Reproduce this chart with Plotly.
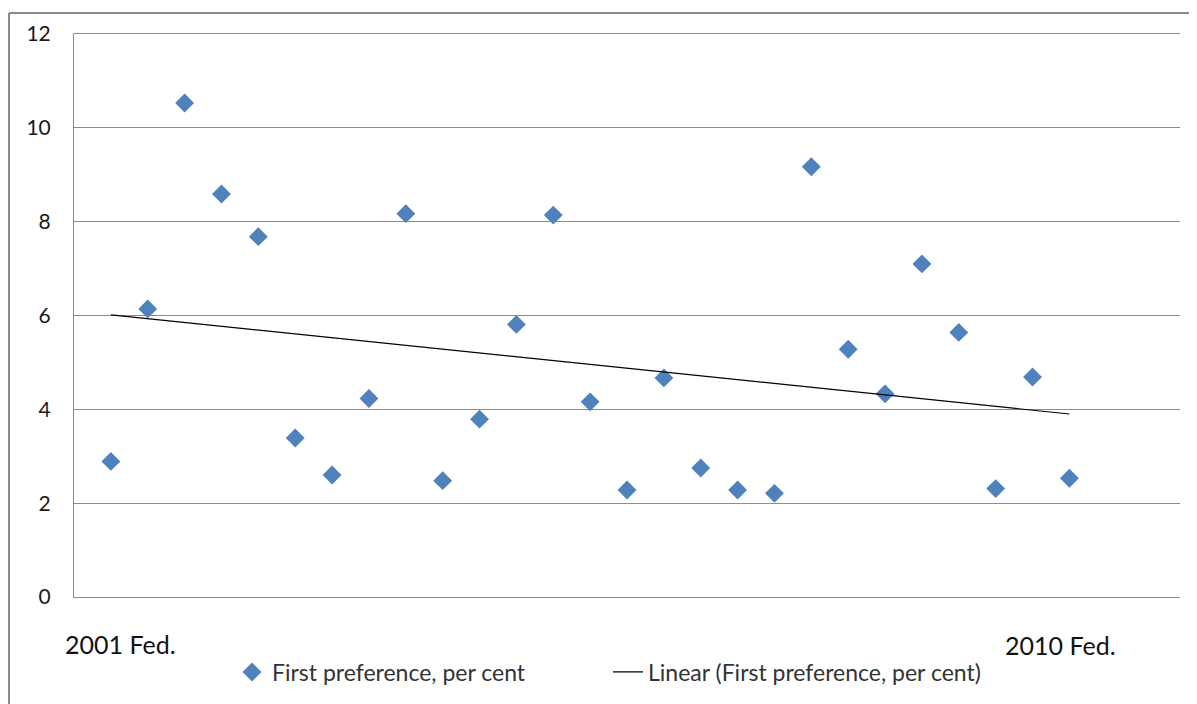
import numpy as np
import plotly.graph_objects as go

# Data
x_index = list(range(1, 28))
first_pref = [2.89, 6.14, 10.53, 8.59, 7.68, 3.39, 2.60, 4.23, 8.17, 2.48,
              3.79, 5.81, 8.14, 4.16, 2.28, 4.67, 2.75, 2.28, 2.21, 9.17,
              5.28, 4.33, 7.10, 5.64, 2.31, 4.69, 2.53]
y_ticks = [0, 2, 4, 6, 8, 10, 12]
x_labels = ["2001 Fed.", "2010 Fed."]
series_name = "First preference, per cent"
trend_name = "Linear (First preference, per cent)"

# Linear trendline (least squares), as Excel does
slope, intercept = np.polyfit(x_index, first_pref, 1)
trend_x = [x_index[0], x_index[-1]]
trend_y = [intercept + slope * v for v in trend_x]

FONT = "Lato, 'Open Sans', sans-serif"

fig = go.Figure()
fig.add_trace(go.Scatter(
    x=x_index, y=first_pref, mode="markers", name=series_name,
    marker=dict(symbol="diamond", size=14.5, color="#4F81BD",
                line=dict(width=0)),
))
fig.add_trace(go.Scatter(
    x=trend_x, y=trend_y, mode="lines", name=trend_name,
    line=dict(color="black", width=1.2),
))

# page has an 8px body margin; figure is sized to fill the rest
OFF = 8
W, H = 1197 - OFF, 704 - OFF
ml, mr, mt, mb = 74 - OFF, 17, 34 - OFF, 106
pw, ph = W - ml - mr, H - mt - mb

def px_x(p):  # page pixel -> paper x
    return (p - OFF - ml) / pw

def px_y(p):  # page pixel -> paper y
    return (H - mb - (p - OFF)) / ph

fig.update_layout(
    width=W, height=H,
    margin=dict(l=ml, r=mr, t=mt, b=mb, pad=0),
    plot_bgcolor="white", paper_bgcolor="white",
    font=dict(family=FONT, color="#1a1a1a"),
    showlegend=True,
    legend=dict(
        orientation="h", x=px_x(232), xanchor="left",
        y=px_y(672), yanchor="middle",
        font=dict(size=23, color="#333333", family=FONT),
        entrywidth=331, entrywidthmode="pixels",
        bgcolor="rgba(0,0,0,0)",
    ),
    xaxis=dict(range=[0, 30], showgrid=False, zeroline=False,
               showline=True, mirror=True, linecolor="#8c8c8c", linewidth=1,
               showticklabels=False, ticks="", fixedrange=True),
    yaxis=dict(range=[0, 12], tickvals=y_ticks, showgrid=True,
               gridcolor="#8c8c8c", gridwidth=1, zeroline=False,
               showline=True, linecolor="#8c8c8c", linewidth=1,
               ticks="", ticklabelstandoff=18,
               tickfont=dict(size=21, color="#1a1a1a", family=FONT)),
)

# Category labels under the axis
fig.add_annotation(x=px_x(120), y=px_y(645), xref="paper", yref="paper",
                   text=x_labels[0], showarrow=False, xanchor="center",
                   yanchor="middle", font=dict(size=25, color="#111111", family=FONT))
fig.add_annotation(x=px_x(1060), y=px_y(646), xref="paper", yref="paper",
                   text=x_labels[1], showarrow=False, xanchor="center",
                   yanchor="middle", font=dict(size=25, color="#111111", family=FONT))

# Outer chart border (top and left edges visible)
fig.add_shape(type="line", xref="paper", yref="paper",
              x0=px_x(9), x1=px_x(1200), y0=px_y(13), y1=px_y(13),
              line=dict(color="#8a8a8a", width=2))
fig.add_shape(type="line", xref="paper", yref="paper",
              x0=px_x(9), x1=px_x(9), y0=px_y(13), y1=px_y(710),
              line=dict(color="#8a8a8a", width=2))

fig.write_html("out.html")
